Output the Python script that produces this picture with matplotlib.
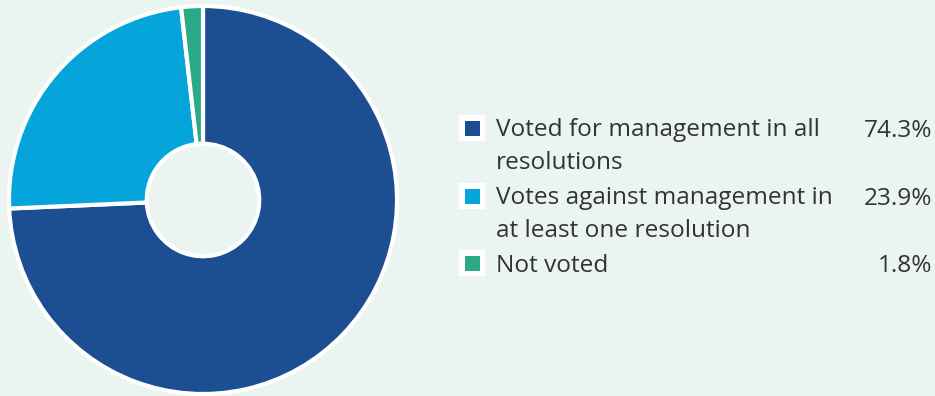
import matplotlib.pyplot as plt
from matplotlib.patches import Rectangle

# data
labels = ["Voted for management in all\nresolutions",
          "Votes against management in\nat least one resolution",
          "Not voted"]
shares = [74.3, 23.9, 1.8]
pct_text = ["74.3%", "23.9%", "1.8%"]
colors = ["#1c4f91", "#05a5dc", "#2baa88"]

BG = "#eaf4f0"
W, H = 935, 396
plt.rcParams["font.family"] = ["Open Sans", "DejaVu Sans"]

fig = plt.figure(figsize=(W / 100, H / 100), dpi=100, facecolor=BG)

# donut, placed in pixel terms (centre ~ (203, 200), radius ~194)
ax = fig.add_axes([9 / W, 1 - 394 / H, 388 / W, 388 / H])
ax.set_facecolor(BG)
ax.pie(shares, colors=colors, startangle=90, counterclock=False,
       radius=1, wedgeprops=dict(width=0.71, edgecolor="white", linewidth=3))
ax.set_xlim(-1, 1); ax.set_ylim(-1, 1)
ax.set_aspect("equal"); ax.axis("off")

# legend drawn by hand: white box + coloured square, wrapped label, right-aligned %
row_base = [137, 205, 272]       # pixel y (from top) of each entry's first baseline
line_px = 32                     # distance between wrapped lines
for y, lab, pct, c in zip(row_base, labels, pct_text, colors):
    fy = 1 - y / H
    my = 1 - (y - 9) / H         # marker centre
    fig.patches.append(Rectangle((459 / W, my - 13 / H), 26 / W, 26 / H,
                                 transform=fig.transFigure, facecolor="white", edgecolor="none"))
    fig.patches.append(Rectangle((464.5 / W, my - 7.5 / H), 15 / W, 15 / H,
                                 transform=fig.transFigure, facecolor=c, edgecolor="none"))
    # va="baseline" anchors the last line, so shift down by the extra lines
    last = 1 - (y + line_px * lab.count("\n")) / H
    fig.text(496 / W, last, lab, ha="left", va="baseline", fontsize=17.6,
             color="#333333", linespacing=1.5)
    fig.text(932 / W, fy, pct, ha="right", va="baseline", fontsize=17.6, color="#333333")

fig.savefig("out.png", dpi=100, facecolor=BG)
